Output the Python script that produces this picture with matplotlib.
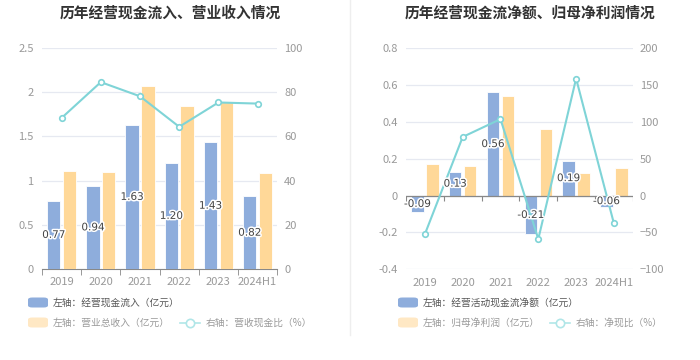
import matplotlib
matplotlib.use("Agg")
import matplotlib.pyplot as plt
import matplotlib.patheffects as pe
from matplotlib.patches import FancyBboxPatch
from matplotlib.lines import Line2D

plt.rcParams['font.family'] = ['Noto Sans CJK SC', 'DejaVu Sans']

# data
years = ['2019', '2020', '2021', '2022', '2023', '2024H1']

cash_in = [0.77, 0.94, 1.63, 1.20, 1.43, 0.82]          # 经营现金流入（亿元）
revenue = [1.11, 1.10, 2.07, 1.84, 1.89, 1.09]          # 营业总收入（亿元）
cash_ratio = [68.3, 84.5, 78.1, 64.3, 75.3, 74.8]       # 营收现金比（%）

net_cash = [-0.09, 0.13, 0.56, -0.21, 0.19, -0.06]      # 经营活动现金流净额（亿元）
net_profit = [0.17, 0.16, 0.54, 0.36, 0.12, 0.15]       # 归母净利润（亿元）
net_ratio = [-52.3, 79.6, 103.8, -59.0, 158.9, -37.8]   # 净现比（%）

BLUE = '#8eaddc'
ORANGE = '#ffd898'
TEAL = '#7fd4d7'
GRID = '#e6e9f1'
TICK = '#999999'

fig = plt.figure(figsize=(7, 3.6), dpi=100)

# separator between the two panels
fig.add_artist(Line2D([0.5, 0.5], [0.07, 1.0], color='#eeeeee', lw=1))

x = list(range(len(years)))
xb = [i - 0.2 for i in x]
xo = [i + 0.2 for i in x]


def style_axes(ax, ax2):
    for a in (ax, ax2):
        for s in a.spines.values():
            s.set_visible(False)
    ax.tick_params(axis='y', length=0, labelsize=8, labelcolor=TICK, pad=6)
    ax2.tick_params(axis='y', length=0, labelsize=8, labelcolor=TICK, pad=5)
    ax.tick_params(axis='x', which='major', length=0, labelsize=8, labelcolor=TICK, pad=6)
    ax.yaxis.grid(True, color=GRID, lw=0.9)
    ax.set_axisbelow(True)
    ax.set_xlim(-0.5, len(years) - 0.5)
    ax.set_xticks(x)
    ax.set_xticklabels(years)


def bar_labels(ax, top, vals, xs):
    # labels drawn on the top (twin) axes so they sit above the line
    for xi, v in zip(xs, vals):
        top.text(xi, v / 2, f'{v:.2f}', ha='center', va='center', fontsize=7.5,
                 color='#444444', family=['DejaVu Sans'], transform=ax.transData,
                 path_effects=[pe.withStroke(linewidth=2.2, foreground='white')], zorder=6)


# ---------- left panel ----------
ax1 = fig.add_axes([0.06, 0.253, 0.336, 0.614])
ax1r = ax1.twinx()
ax1.bar(xb, cash_in, width=0.34, color=BLUE, edgecolor='white', lw=0.6, zorder=3)
ax1.bar(xo, revenue, width=0.34, color=ORANGE, edgecolor='white', lw=0.6, zorder=3)
ax1r.plot(x, cash_ratio, color=TEAL, lw=1.5, marker='o', ms=4, mfc='white', mec=TEAL, mew=1.2, zorder=5)
ax1.set_ylim(0, 2.5)
ax1.set_yticks([0, 0.5, 1, 1.5, 2, 2.5])
ax1.set_yticklabels(['0', '0.5', '1', '1.5', '2', '2.5'])
ax1r.set_ylim(0, 100)
ax1r.set_yticks([0, 20, 40, 60, 80, 100])
style_axes(ax1, ax1r)
ax1.spines['bottom'].set_visible(True)
ax1.spines['bottom'].set_color('#888888')
ax1.set_xticks([i - 0.5 for i in range(len(years) + 1)], minor=True)
ax1.tick_params(axis='x', which='minor', length=4, color='#888888')
bar_labels(ax1, ax1r, cash_in, xb)
fig.text(0.243, 0.965, '历年经营现金流入、营业收入情况', ha='center', va='center',
         fontsize=10.6, fontweight='bold', color='#333333')

# ---------- right panel ----------
ax2 = fig.add_axes([0.58, 0.252, 0.324, 0.614])
ax2r = ax2.twinx()
ax2.bar(xb, net_cash, width=0.33, color=BLUE, edgecolor='white', lw=0.6, zorder=3)
ax2.bar(xo, net_profit, width=0.33, color=ORANGE, edgecolor='white', lw=0.6, zorder=3)
ax2r.plot(x, net_ratio, color=TEAL, lw=1.5, marker='o', ms=4, mfc='white', mec=TEAL, mew=1.2, zorder=5)
ax2.set_ylim(-0.4, 0.8)
ax2.set_yticks([-0.4, -0.2, 0, 0.2, 0.4, 0.6, 0.8])
ax2.set_yticklabels(['-0.4', '-0.2', '0', '0.2', '0.4', '0.6', '0.8'])
ax2r.set_ylim(-100, 200)
ax2r.set_yticks([-100, -50, 0, 50, 100, 150, 200])
style_axes(ax2, ax2r)
ax2.axhline(0, color='#888888', lw=0.9, zorder=4)
ax2.vlines([i - 0.5 for i in range(len(years) + 1)], -0.027, 0, color='#888888', lw=0.8, zorder=4)
bar_labels(ax2, ax2r, net_cash, xb)
fig.text(0.757, 0.965, '历年经营现金流净额、归母净利润情况', ha='center', va='center',
         fontsize=10.6, fontweight='bold', color='#333333')


# ---------- legends ----------
def patch_item(px, py, color, label, tcolor):
    fig.add_artist(FancyBboxPatch((px / 700, 1 - (py + 5) / 360), 20 / 700, 10 / 360,
                                  boxstyle='round,pad=0,rounding_size=0.006',
                                  transform=fig.transFigure, fc=color, ec='none'))
    fig.text((px + 25) / 700, 1 - py / 360, label, ha='left', va='center',
             fontsize=7, color=tcolor)


def line_item(px, py, label, tcolor):
    fig.add_artist(Line2D([px / 700, (px + 20) / 700], [1 - py / 360] * 2,
                          color='#b0e6e8', lw=1.2, transform=fig.transFigure))
    fig.add_artist(Line2D([(px + 10) / 700], [1 - py / 360], color='#b0e6e8', ls='none',
                          marker='o', ms=6, mfc='white', mec='#b0e6e8', mew=1.2,
                          transform=fig.transFigure))
    fig.text((px + 26) / 700, 1 - py / 360, label, ha='left', va='center',
             fontsize=7, color=tcolor)


patch_item(28, 302.5, BLUE, '左轴：经营现金流入（亿元）', '#555555')
patch_item(28, 322.5, '#ffe8c4', '左轴：营业总收入（亿元）', '#999999')
line_item(180, 322.5, '右轴：营收现金比（%）', '#999999')

patch_item(398, 302.5, BLUE, '左轴：经营活动现金流净额（亿元）', '#555555')
patch_item(398, 322.5, '#ffe8c4', '左轴：归母净利润（亿元）', '#999999')
line_item(550, 322.5, '右轴：净现比（%）', '#999999')

fig.savefig('out.png', dpi=100)
